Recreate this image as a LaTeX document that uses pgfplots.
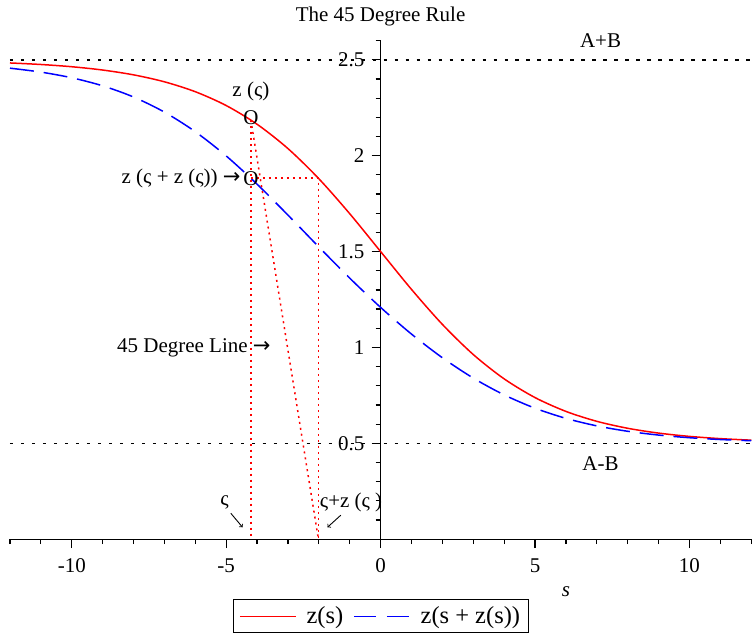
\documentclass[border=0pt]{standalone}
\usepackage{fontspec}
\setmainfont{Liberation Serif}
\newfontfamily\arr{DejaVu Sans}
\usepackage{pgfplots}
\pgfplotsset{compat=1.18}
\begin{document}
\fontsize{21pt}{25pt}\selectfont
\begin{tikzpicture}
\begin{axis}[
  scale only axis, width=742pt, height=499pt,
  xmin=-12, xmax=12, ymin=0, ymax=2.6,
  axis lines=middle, axis line style={-, line width=1.2pt, black},
  xtick={-10,-5,0,5,10},
  minor xtick={-12,-11,-10,-9,-8,-7,-6,-5,-4,-3,-2,-1,0,1,2,3,4,5,6,7,8,9,10,11,12},
  ytick={0.5,1,1.5,2,2.5},
  minor ytick={0.1,0.2,0.3,0.4,0.5,0.6,0.7,0.8,0.9,1.0,1.1,1.2,1.3,1.4,1.5,1.6,1.7,1.8,1.9,2.0,2.1,2.2,2.3,2.4,2.5,2.6},
  tick align=outside, major tick length=9pt, minor tick length=5pt,
  every tick/.style={line width=1.2pt, black},
  hide obscured x ticks=false, hide obscured y ticks=false,
  /pgf/number format/assume math mode=true,
  xticklabel style={yshift=-3pt},
  clip=false,
  legend columns=2,
  legend style={at={(0.5,0)}, anchor=north, yshift=-60pt,
    font=\fontsize{24.5pt}{28pt}\selectfont, line width=1.2pt,
    inner xsep=6pt, inner ysep=4.5pt,
    nodes={inner ysep=2pt},
    /tikz/every odd column/.append style={column sep=8pt},
    /tikz/every even column/.append style={column sep=8pt}},
]
\addlegendimage{legend image code/.code={\draw[red, line width=1.5pt] (0pt,0pt) -- (56pt,0pt);}}
\addlegendentry{z(s)}
\addlegendimage{legend image code/.code={\draw[blue, line width=1.5pt, dash pattern=on 22pt off 11pt] (0pt,0pt) -- (56pt,0pt);}}
\addlegendentry{z(s + z(s))}
\addplot[forget plot, red, line width=1.5pt, smooth] coordinates {
(-12,2.4837) (-11,2.4757) (-10,2.4640) (-9,2.4468) (-8,2.4217) (-7,2.3854)
(-6,2.3337) (-5,2.2616) (-4,2.1640) (-3,2.0371) (-2,1.8799) (-1,1.6974)
(0,1.5) (1,1.3026) (2,1.1201) (3,0.9629) (4,0.8360) (5,0.7384) (6,0.6663)
(7,0.6146) (8,0.5783) (9,0.5532) (10,0.5360) (11,0.5243) (12,0.5163)};
\addplot[forget plot, blue, line width=1.5pt, smooth, dash pattern=on 24pt off 10pt] coordinates {
(-12,2.4565) (-11,2.4360) (-10,2.4064) (-9,2.3644) (-8,2.3061) (-7,2.2273)
(-6,2.1251) (-5,1.9988) (-4,1.8515) (-3,1.6902) (-2,1.5240) (-1,1.3614)
(0,1.2087) (1,1.0695) (2,0.9461) (3,0.8401) (4,0.7525) (5,0.6830) (6,0.6300)
(7,0.5908) (8,0.5627) (9,0.5429) (10,0.5291) (11,0.5197) (12,0.5133)};
\addplot[forget plot, black, line width=1.5pt, dash pattern=on 3.5pt off 7.5pt] coordinates {(-12,2.5) (12,2.5)};
\addplot[forget plot, black, line width=1.5pt, dash pattern=on 3.5pt off 7.5pt] coordinates {(-12,0.5) (12,0.5)};
\addplot[forget plot, red, line width=1.5pt, dash pattern=on 2pt off 4pt] coordinates {(-4.2,2.1858) (-4.2,0)};
\addplot[forget plot, red, line width=1.5pt, dash pattern=on 2pt off 4pt] coordinates {(-4.2,2.1858) (-2.0142,0)};
\addplot[forget plot, red, line width=1.5pt, dash pattern=on 2pt off 4pt] coordinates {(-4.2,1.8824) (-2.0142,1.8824) (-2.0142,0)};
\node at (axis cs:-4.2,2.186) [yshift=2pt] {O};
\node at (axis cs:-4.2,1.882) {O};
\node at (axis cs:-4.2,2.333) {z (ς)};
\node[anchor=east, inner sep=0pt] at (axis cs:-4.53,1.882) {z (ς + z (ς)) {\arr →}};
\node[anchor=east, inner sep=0pt] at (axis cs:-3.56,1.0) {45 Degree Line {\arr →}};
\node at (axis cs:-5.05,0.19) {ς};
\node[anchor=west, inner sep=0pt] at (axis cs:-1.97,0.19) {ς+z (ς )};
\draw[->, line width=0.9pt] (axis cs:-4.85,0.135) -- (axis cs:-4.47,0.062);
\draw[->, line width=0.9pt] (axis cs:-1.29,0.125) -- (axis cs:-1.72,0.062);
\node at (axis cs:7.12,2.6) {A+B};
\node at (axis cs:7.12,0.396) {A-B};
\node at (axis cs:6,0) [yshift=-53pt] {\textit{s}};
\node at (axis cs:0,2.6) [yshift=24pt] {The 45 Degree Rule};
\end{axis}
\path ([xshift=-10pt,yshift=-95pt]current axis.south west) rectangle ([yshift=40.7pt]current axis.north east);
\end{tikzpicture}
\end{document}
